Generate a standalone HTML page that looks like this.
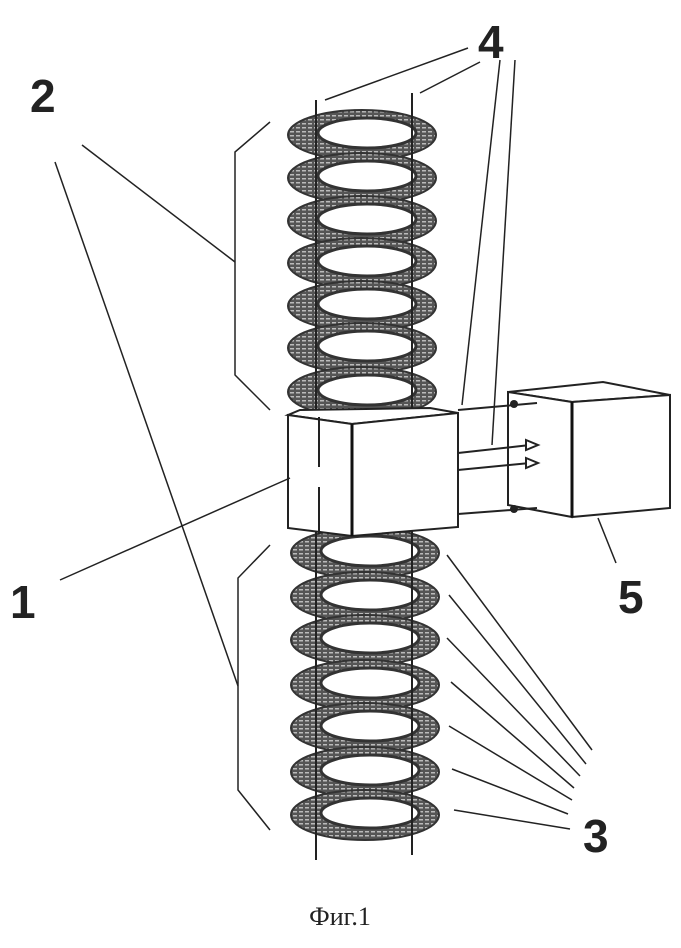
<!DOCTYPE html>
<html><head><meta charset="utf-8"><style>
html,body{margin:0;padding:0;background:#fff}
svg{display:block}
.lbl{font-family:"Liberation Sans",sans-serif;font-weight:bold;font-size:46px;fill:#222}
</style></head><body>
<svg width="681" height="948" viewBox="0 0 681 948" xmlns="http://www.w3.org/2000/svg">
<defs>
<pattern id="hatch" width="6" height="4" patternUnits="userSpaceOnUse">
<rect width="6" height="4" fill="#555"/>
<rect width="4" height="1.5" fill="#bbb"/>
</pattern>
<g id="ring">
<ellipse cx="0" cy="0" rx="74" ry="25" fill="url(#hatch)" stroke="#333" stroke-width="2"/>
<ellipse cx="5" cy="-2" rx="49" ry="15" fill="#fff" stroke="#333" stroke-width="3"/>
</g>
</defs>
<g>
<use href="#ring" x="362" y="135"/>
<use href="#ring" x="362" y="178"/>
<use href="#ring" x="362" y="221"/>
<use href="#ring" x="362" y="263"/>
<use href="#ring" x="362" y="306"/>
<use href="#ring" x="362" y="348"/>
<use href="#ring" x="362" y="392"/>
<use href="#ring" x="365" y="553"/>
<use href="#ring" x="365" y="597"/>
<use href="#ring" x="365" y="640"/>
<use href="#ring" x="365" y="685"/>
<use href="#ring" x="365" y="728"/>
<use href="#ring" x="365" y="772"/>
<use href="#ring" x="365" y="815"/>
</g>
<g stroke="#222" stroke-width="2" fill="none">
<line x1="316" y1="100" x2="316" y2="860"/>
<line x1="412" y1="93" x2="412" y2="855"/>
</g>
<!-- box 1 -->
<polygon points="288,415 352,424 458,413 430,408 300,410" fill="#fff" stroke="#222" stroke-width="2"/>
<polygon points="288,415 352,424 352,536 288,528" fill="#fff" stroke="#222" stroke-width="2"/>
<polygon points="352,424 458,413 458,527 352,536" fill="#fff" stroke="#222" stroke-width="2"/>
<line x1="352" y1="424" x2="352" y2="536" stroke="#111" stroke-width="3"/>
<line x1="319" y1="417" x2="319" y2="467" stroke="#222" stroke-width="2"/>
<line x1="319" y1="487" x2="319" y2="534" stroke="#222" stroke-width="2"/>
<!-- box 5 -->
<polygon points="508,392 603,382 670,395 572,402" fill="#fff" stroke="#222" stroke-width="2"/>
<polygon points="508,392 572,402 572,517 508,505" fill="#fff" stroke="#222" stroke-width="2"/>
<polygon points="572,402 670,395 670,508 572,517" fill="#fff" stroke="#222" stroke-width="2"/>
<line x1="572" y1="402" x2="572" y2="517" stroke="#111" stroke-width="3"/>
<!-- connectors -->
<g stroke="#222" stroke-width="2" fill="none">
<line x1="458" y1="410" x2="537" y2="403"/>
<line x1="458" y1="453" x2="530" y2="445"/>
<line x1="458" y1="470" x2="530" y2="463"/>
<line x1="458" y1="514" x2="537" y2="508"/>
</g>
<circle cx="514" cy="404" r="4" fill="#222"/>
<circle cx="514" cy="509" r="4" fill="#222"/>
<polygon points="526,440 538,445 526,450" fill="#fff" stroke="#222" stroke-width="2"/>
<polygon points="526,458 538,463 526,468" fill="#fff" stroke="#222" stroke-width="2"/>
<!-- brackets & leaders -->
<g stroke="#222" stroke-width="1.5" fill="none">
<polyline points="270,122 235,152 235,375 270,410"/>
<polyline points="270,545 238,578 238,790 270,830"/>
<line x1="82" y1="145" x2="235" y2="262"/>
<line x1="55" y1="162" x2="238" y2="686"/>
<line x1="325" y1="100" x2="468" y2="48"/>
<line x1="420" y1="93" x2="480" y2="62"/>
<line x1="462" y1="405" x2="500" y2="60"/>
<line x1="492" y1="445" x2="515" y2="60"/>
<line x1="60" y1="580" x2="290" y2="478"/>
<line x1="598" y1="518" x2="616" y2="563"/>
<line x1="447" y1="555" x2="592" y2="750"/>
<line x1="449" y1="595" x2="586" y2="764"/>
<line x1="447" y1="638" x2="580" y2="776"/>
<line x1="451" y1="682" x2="574" y2="788"/>
<line x1="449" y1="726" x2="572" y2="800"/>
<line x1="452" y1="769" x2="568" y2="814"/>
<line x1="454" y1="810" x2="570" y2="829"/>
</g>
<text class="lbl" x="30" y="112">2</text>
<text class="lbl" x="478" y="58">4</text>
<text class="lbl" x="10" y="618">1</text>
<text class="lbl" x="618" y="613">5</text>
<text class="lbl" x="583" y="852">3</text>
<text x="340" y="925" font-family="Liberation Serif,serif" font-size="26" fill="#222" text-anchor="middle">Фиг.1</text>
</svg>
</body></html>
